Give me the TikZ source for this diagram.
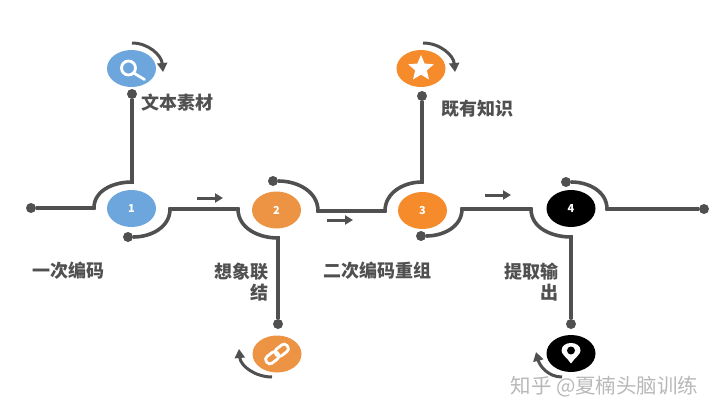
\documentclass[tikz,border=0pt]{standalone}
\usepackage{fontspec}
\setmainfont{Noto Sans CJK SC}
\usetikzlibrary{shapes,arrows.meta,positioning}
\definecolor{wire}{HTML}{505050}
\definecolor{stepblue}{HTML}{6CA6DD}
\definecolor{steporange}{HTML}{EC9444}
\definecolor{stepamber}{HTML}{F58B2B}
\definecolor{marktext}{HTML}{B8B8B8}

\begin{document}
\begin{tikzpicture}[x=1pt,y=1pt,
  stepnode/.style={ellipse,minimum width=49pt,minimum height=37pt,inner sep=0,text=white,font=\fontsize{11}{11}\selectfont\bfseries},
  enddot/.style={circle,fill=wire,minimum size=10pt,inner sep=0},
  wireline/.style={draw=wire,line width=3.6pt},
  turnarrow/.style={draw=wire,line width=3pt,-{Triangle[length=9pt,width=10pt]}},
  flowarrow/.style={draw=wire,line width=3pt,-{Triangle[length=8pt,width=9pt]}},
  caption/.style={text=wire,font=\fontsize{18}{21}\selectfont\bfseries,inner sep=0},
  icon/.style={draw=white,line width=2.8pt}]
  \useasboundingbox (0,0) rectangle (720,416);

  % Steps on the main line
  \node[stepnode,fill=stepblue] (s1) at (131.5,207.5) {1};
  \node[stepnode,fill=steporange] (s2) at (276.5,206) {2};
  \node[stepnode,fill=stepamber] (s3) at (422.5,205.5) {3};
  \node[stepnode,fill=black] (s4) at (571,207.5) {4};

  % Icon nodes
  \node[stepnode,fill=stepblue] (search) at (131.5,347.5) {};
  \node[stepnode,fill=stepamber] (favour) at (421,347.5) {};
  \node[stepnode,fill=steporange] (link) at (277,62) {};
  \node[stepnode,fill=black] (pin) at (571,62.5) {};

  % End points of the lines
  \node[enddot] (d1) at (31,208) {};
  \node[enddot] (d2) at (132,322) {};
  \node[enddot] (d3) at (128,179) {};
  \node[enddot] (d4) at (278,92) {};
  \node[enddot] (d5) at (273,235) {};
  \node[enddot] (d6) at (422,320) {};
  \node[enddot] (d7) at (421,180) {};
  \node[enddot] (d8) at (571,92) {};
  \node[enddot] (d9) at (566,234) {};
  \node[enddot] (d10) at (704,207) {};

  % Bends of the lines
  \coordinate (b1) at (94,208);
  \coordinate (b2) at (132,234);
  \coordinate (b3) at (170,207);
  \coordinate (b4) at (238,207);
  \coordinate (b5) at (278,178);
  \coordinate (b6) at (318,205);
  \coordinate (b7) at (385,205);
  \coordinate (b8) at (422,234);
  \coordinate (b9) at (462,207);
  \coordinate (b10) at (531,207);
  \coordinate (b11) at (571,179);
  \coordinate (b12) at (607,207);

  % Lines
  \draw[wireline] (d1) -- (b1) to[out=90,in=180] (b2) -- (d2);
  \draw[wireline] (d3) to[out=0,in=-90] (b3) -- (b4) to[out=-90,in=180] (b5) -- (d4);
  \draw[wireline] (d5) to[out=0,in=90] (b6) -- (b7) to[out=90,in=180] (b8) -- (d6);
  \draw[wireline] (d7) to[out=0,in=-90] (b9) -- (b10) to[out=-90,in=180] (b11) -- (d8);
  \draw[wireline] (d9) to[out=0,in=90] (b12) -- (d10);

  % Arrows between the steps
  \coordinate (f1) at (197,218);
  \coordinate (f2) at (223,218);
  \coordinate (f3) at (327,196);
  \coordinate (f4) at (353,196);
  \coordinate (f5) at (485,221);
  \coordinate (f6) at (511,221);
  \draw[flowarrow] (f1) -- (f2);
  \draw[flowarrow] (f3) -- (f4);
  \draw[flowarrow] (f5) -- (f6);

  % Turning arrows at the icons
  \coordinate (t1) at (132,373);
  \coordinate (t2) at (163,344);
  \coordinate (t3) at (423,373);
  \coordinate (t4) at (455,344);
  \coordinate (t5) at (272,39);
  \coordinate (t6) at (239,67);
  \coordinate (t7) at (562,39);
  \coordinate (t8) at (536,64);
  \draw[turnarrow] (t1) to[out=0,in=95] (t2);
  \draw[turnarrow] (t3) to[out=0,in=95] (t4);
  \draw[turnarrow] (t5) to[out=180,in=-85] (t6);
  \draw[turnarrow] (t7) to[out=180,in=-75] (t8);

  % Icons
  \draw[icon] (search.center) ++(-3,0.5) circle (7);
  \draw[icon,line cap=round] (search.center) ++(3,-5) -- ++(10,-6);
  \node[star,star points=5,star point ratio=2.2,fill=white,minimum size=27pt,inner sep=0] (favstar) at (favour.center) {};
  \draw[icon,rounded corners=3.5pt,rotate around={38:(link.center)}] ([shift={(-13,-4.2)}]link.center) rectangle ([shift={(1,4.2)}]link.center);
  \draw[icon,rounded corners=3.5pt,rotate around={38:(link.center)}] ([shift={(-1,-4.2)}]link.center) rectangle ([shift={(13,4.2)}]link.center);
  \fill[white] ([shift={(0,-10)}]pin.center) .. controls ([shift={(-4,-4)}]pin.center) and ([shift={(-9.5,-1)}]pin.center) .. ([shift={(-9.5,3)}]pin.center) .. controls ([shift={(-9.5,13)}]pin.center) and ([shift={(9.5,13)}]pin.center) .. ([shift={(9.5,3)}]pin.center) .. controls ([shift={(9.5,-1)}]pin.center) and ([shift={(4,-4)}]pin.center) .. cycle;
  \fill[black] ([shift={(0,3)}]pin.center) circle (4);

  % Captions
  \node[caption] (t_text) at (177.5,313) {文本素材};
  \node[caption] (t_known) at (477,307) {既有知识};
  \node[caption] (t_first) at (68,145) {一次编码};
  \node[caption,align=right,anchor=east] (t_image) at (269,134) {想象联\\结};
  \node[caption] (t_second) at (377,145) {二次编码重组};
  \node[caption,align=right,anchor=east] (t_output) at (559,134) {提取输\\出};

  % Mark in the corner
  \node[text=marktext,font=\fontsize{20.5}{20.5}\selectfont,inner sep=0] (mark) at (604.5,29) {知乎 @夏楠头脑训练};
\end{tikzpicture}
\end{document}
